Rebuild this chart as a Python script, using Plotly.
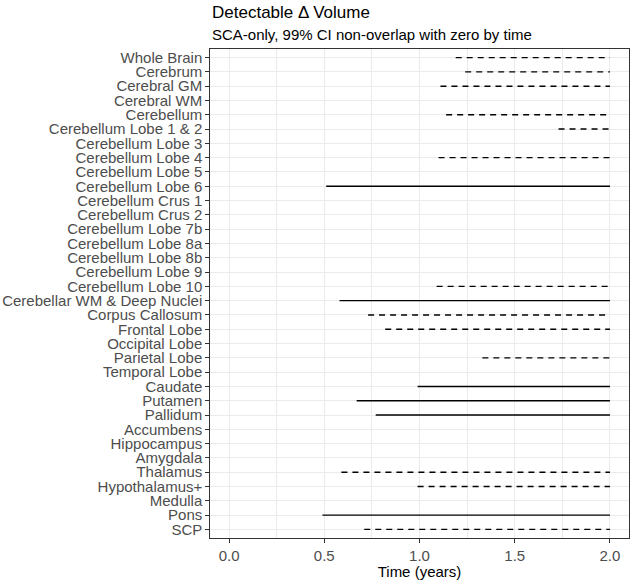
import plotly.graph_objects as go

regions = [
    "Whole Brain", "Cerebrum", "Cerebral GM", "Cerebral WM", "Cerebellum",
    "Cerebellum Lobe 1 & 2", "Cerebellum Lobe 3", "Cerebellum Lobe 4",
    "Cerebellum Lobe 5", "Cerebellum Lobe 6", "Cerebellum Crus 1",
    "Cerebellum Crus 2", "Cerebellum Lobe 7b", "Cerebellum Lobe 8a",
    "Cerebellum Lobe 8b", "Cerebellum Lobe 9", "Cerebellum Lobe 10",
    "Cerebellar WM & Deep Nuclei", "Corpus Callosum", "Frontal Lobe",
    "Occipital Lobe", "Parietal Lobe", "Temporal Lobe", "Caudate", "Putamen",
    "Pallidum", "Accumbens", "Hippocampus", "Amygdala", "Thalamus",
    "Hypothalamus+", "Medulla", "Pons", "SCP",
]
# first detectable time (years); None = never detectable
start_time = [
    1.19, 1.24, 1.11, None, 1.14,
    1.73, None, 1.10,
    None, 0.51, None,
    None, None, None,
    None, None, 1.09,
    0.58, 0.73, 0.82,
    None, 1.33, None, 0.99, 0.67,
    0.77, None, None, None, 0.59,
    0.99, None, 0.49, 0.71,
]
end_time = [2.0] * len(regions)
line_type = [
    "dashed", "dashed", "dashed", None, "dashed",
    "dashed", None, "dashed",
    None, "solid", None,
    None, None, None,
    None, None, "dashed",
    "solid", "dashed", "dashed",
    None, "dashed", None, "solid", "solid",
    "solid", None, None, None, "dashed",
    "dashed", None, "solid", "dashed",
]
x_ticks = [0.0, 0.5, 1.0, 1.5, 2.0]
x_tick_labels = ["0.0", "0.5", "1.0", "1.5", "2.0"]

fig = go.Figure()
for lt, dash in [("solid", "solid"), ("dashed", "6px,5px")]:
    xs, ys = [], []
    for i, r in enumerate(regions):
        if line_type[i] == lt and start_time[i] is not None:
            xs += [start_time[i], end_time[i], None]
            ys += [i, i, None]
    fig.add_trace(go.Scatter(
        x=xs, y=ys, mode="lines",
        line=dict(color="black", width=1.4, dash=dash),
        hoverinfo="skip", showlegend=False,
    ))

font_family = "Liberation Sans, Arial, sans-serif"
fig.update_layout(
    width=633, height=580,
    margin=dict(l=210, r=4, t=49, b=42, autoexpand=False),
    paper_bgcolor="white", plot_bgcolor="white",
    font=dict(family=font_family, size=15, color="#4D4D4D"),
    showlegend=False,
    xaxis=dict(
        range=[-0.1, 2.1], tickvals=x_ticks, ticktext=x_tick_labels,
        showgrid=True, gridcolor="#EBEBEB", gridwidth=1.07,
        minor=dict(dtick=0.25, tick0=0, showgrid=True, gridcolor="#EBEBEB", gridwidth=0.55),
        zeroline=False, showline=True, linecolor="#333333", linewidth=1.07, mirror=True,
        ticks="outside", ticklen=3.7, tickcolor="#333333", tickwidth=1.07,
        automargin=False,
        tickfont=dict(size=15, color="#4D4D4D"),
        title=dict(text="Time (years)", font=dict(size=15, color="black"), standoff=0),
    ),
    yaxis=dict(
        range=[len(regions) - 0.4, -0.6],
        tickvals=list(range(len(regions))), ticktext=regions,
        showgrid=True, gridcolor="#EBEBEB", gridwidth=1.07,
        zeroline=False, showline=True, linecolor="#333333", linewidth=1.07, mirror=True,
        ticks="outside", ticklen=3.7, tickcolor="#333333", tickwidth=1.07,
        automargin=False,
        tickfont=dict(size=15, color="#4D4D4D"),
    ),
    annotations=[
        dict(text="Detectable Δ Volume", xref="paper", yref="paper", x=0, y=1,
             xanchor="left", yanchor="middle", yshift=37, showarrow=False,
             font=dict(size=17, color="black", family=font_family)),
        dict(text="SCA-only, 99% CI non-overlap with zero by time", xref="paper", yref="paper",
             x=0, y=1, xanchor="left", yanchor="middle", yshift=15, showarrow=False,
             font=dict(size=15, color="black", family=font_family)),
    ],
)
fig.write_html("out.html", config={"displayModeBar": False},
               post_script="document.body.style.margin='0px';")
